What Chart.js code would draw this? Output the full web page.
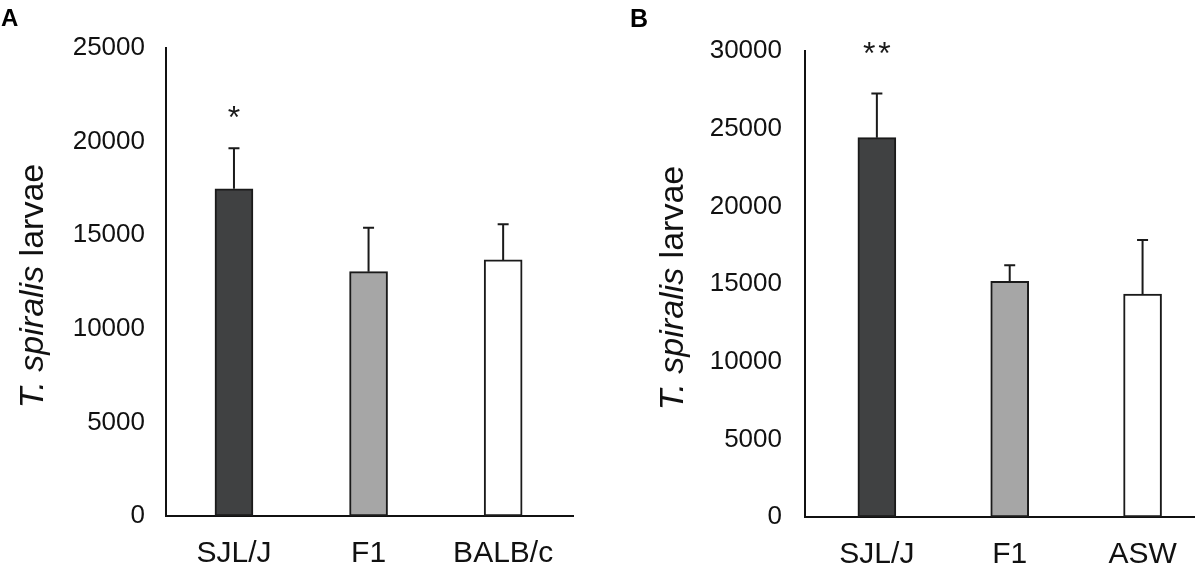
<!DOCTYPE html>
<html><head><meta charset="utf-8">
<script src="https://cdn.jsdelivr.net/npm/chart.js@4.4.0/dist/chart.umd.min.js"></script>
<style>
html,body{margin:0;padding:0;background:#fff;overflow:hidden;}
#wrap{position:relative;width:1197px;height:568px;background:#fff;}
canvas{position:absolute;top:0;}
#cA{left:0;} #cB{left:598px;}
</style></head><body>
<div id="wrap"><canvas id="cA" width="598" height="568"></canvas><canvas id="cB" width="599" height="568"></canvas></div>
<script>
// ---------- Panel A data ----------
const categoriesA = ["SJL/J", "F1", "BALB/c"];
const valuesA = [17480, 13050, 13680];
const errorsA = [2170, 2350, 1910];
const sigA = ["*", "", ""];
const sigPosA = [21600, 0, 0];
const ticksA = [0, 5000, 10000, 15000, 20000, 25000];

// ---------- Panel B data ----------
const categoriesB = ["SJL/J", "F1", "ASW"];
const valuesB = [24420, 15170, 14350];
const errorsB = [2850, 1040, 3480];
const sigB = ["**", "", ""];
const sigPosB = [30200, 0, 0];
const ticksB = [0, 5000, 10000, 15000, 20000, 25000, 30000];

const barColors = ["#404142", "#a6a6a6", "#ffffff"];
const FONT = "'Liberation Sans', Arial, Helvetica, sans-serif";

function makePanel(canvasId, cfg) {
  const overlay = {
    id: 'overlay' + canvasId,
    afterDatasetsDraw(chart) {
      const ctx = chart.ctx;
      const xs = chart.scales.x, ys = chart.scales.y;
      ctx.save();
      // panel letter
      ctx.textAlign = 'left';
      ctx.textBaseline = 'alphabetic';
      ctx.font = "bold " + cfg.letterSize + "px " + FONT;
      ctx.fillStyle = '#000';
      ctx.fillText(cfg.letter, cfg.letterX, cfg.letterY);
      // error bars (upper only)
      ctx.strokeStyle = '#1a1a1a';
      ctx.lineWidth = 2;
      cfg.values.forEach((v, i) => {
        const x = xs.getPixelForValue(i);
        const yb = ys.getPixelForValue(v);
        const yt = ys.getPixelForValue(v + cfg.errors[i]);
        ctx.beginPath();
        ctx.moveTo(x, yb); ctx.lineTo(x, yt);
        ctx.moveTo(x - 5.5, yt); ctx.lineTo(x + 5.5, yt);
        ctx.stroke();
      });
      // significance marks
      ctx.fillStyle = '#1a1a1a';
      ctx.font = "32px " + FONT;
      ctx.textAlign = 'left';
      ctx.textBaseline = 'alphabetic';
      cfg.sig.forEach((s, i) => {
        if (!s) return;
        const x = xs.getPixelForValue(i);
        const yc = ys.getPixelForValue(cfg.sigPos[i]);
        const chars = s.split('');
        const cw = ctx.measureText('*').width;
        const gap = 3;
        const total = chars.length * cw + (chars.length - 1) * gap;
        const m = ctx.measureText('*');
        const base = yc + (m.actualBoundingBoxAscent - m.actualBoundingBoxDescent) / 2;
        chars.forEach((c, k) => ctx.fillText(c, x - total / 2 + k * (cw + gap), base));
      });
      // y-axis title with mixed italic / regular text
      const area = chart.chartArea;
      const cy = (area.top + area.bottom) / 2 + 4;
      const bx = area.left - cfg.titleOffset;
      const p1 = "T. spiralis", p2 = " larvae";
      const f1 = "italic 34px " + FONT, f2 = "34px " + FONT;
      ctx.font = f1; const w1 = ctx.measureText(p1).width;
      ctx.font = f2; const w2 = ctx.measureText(p2).width;
      ctx.translate(bx, cy);
      ctx.rotate(-Math.PI / 2);
      let sx = -(w1 + w2) / 2;
      ctx.fillStyle = '#111';
      ctx.font = f1; ctx.fillText(p1, sx, 0);
      ctx.font = f2; ctx.fillText(p2, sx + w1, 0);
      ctx.restore();
    }
  };

  return new Chart(document.getElementById(canvasId), {
    type: 'bar',
    data: {
      datasets: [{
        data: cfg.values.map((v, i) => ({ x: i, y: v })),
        backgroundColor: barColors,
        borderColor: '#1a1a1a',
        borderWidth: 2,
        borderSkipped: false,
        barThickness: 38
      }]
    },
    options: {
      responsive: false,
      animation: false,
      devicePixelRatio: 1,
      layout: { padding: { left: 0, right: cfg.padRight, top: cfg.padTop, bottom: 0 } },
      plugins: { legend: { display: false }, tooltip: { enabled: false } },
      scales: {
        x: {
          type: 'linear',
          offset: false,
          min: cfg.xMin, max: cfg.xMax,
          grid: { display: false, drawTicks: false, offset: false },
          border: { display: true, color: '#111', width: 2 },
          afterBuildTicks: (s) => { s.ticks = cfg.categories.map((c, i) => ({ value: i })); },
          afterFit: (s) => { s.height = cfg.xHeight; },
          ticks: {
            autoSkip: false, maxRotation: 0, minRotation: 0,
            padding: 20, color: '#111',
            font: { family: FONT, size: 30 },
            callback: (v) => cfg.categories[v]
          }
        },
        y: {
          min: 0, max: cfg.ticks[cfg.ticks.length - 1],
          grid: { display: false, drawTicks: false },
          border: { display: true, color: '#111', width: 2 },
          afterBuildTicks: (s) => { s.ticks = cfg.ticks.map(v => ({ value: v })); },
          afterFit: (s) => { s.width = cfg.yWidth; },
          ticks: {
            padding: cfg.tickPad, color: '#111',
            font: { family: FONT, size: 26 },
            callback: (v) => String(v)
          }
        }
      }
    },
    plugins: [overlay]
  });
}

makePanel('cA', {
  categories: categoriesA, values: valuesA, errors: errorsA, sig: sigA, sigPos: sigPosA, ticks: ticksA,
  xMin: -0.505, xMax: 2.519, yWidth: 166, xHeight: 52, padTop: 48, padRight: 25, tickPad: 21,
  letter: 'A', letterSize: 24, letterX: 1, letterY: 26, titleOffset: 123
});
makePanel('cB', {
  categories: categoriesB, values: valuesB, errors: errorsB, sig: sigB, sigPos: sigPosB, ticks: ticksB,
  xMin: -0.541, xMax: 2.391, yWidth: 207, xHeight: 51, padTop: 51, padRight: 2, tickPad: 23,
  letter: 'B', letterSize: 25, letterX: 32, letterY: 27, titleOffset: 122
});
</script>
</body></html>
